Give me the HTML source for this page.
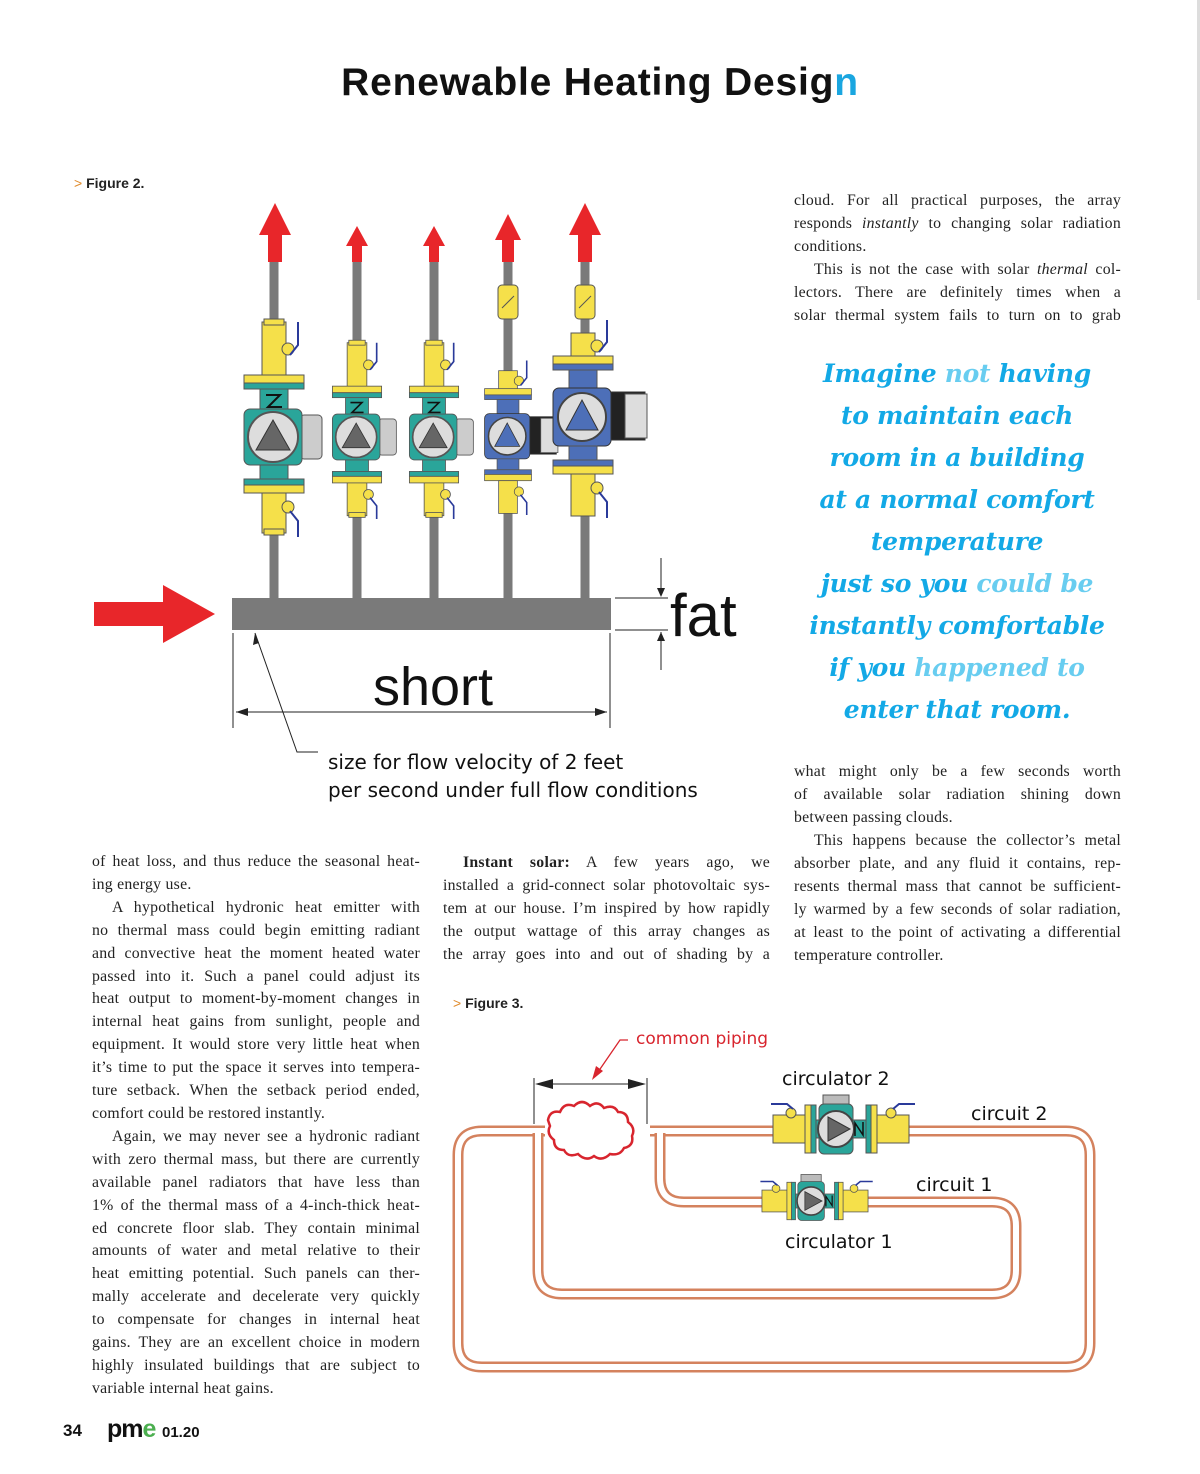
<!DOCTYPE html>
<html><head><meta charset="utf-8"><style>
body{margin:0;width:1200px;height:1474px;background:#fff;position:relative;overflow:hidden;font-family:"Liberation Serif",serif;color:#222}
.col{position:absolute;font-size:15.8px;line-height:23px;letter-spacing:0.25px}
.col div{text-align:justify;text-align-last:justify;white-space:nowrap;overflow:visible}
.col div.l{text-align-last:left}
.in{text-indent:20px}
.q{position:absolute;left:790px;width:334px;text-align:center;font-family:"DejaVu Serif",serif;font-weight:bold;font-style:italic;font-size:25px;line-height:42px;color:#13a9e6;top:353px;letter-spacing:-0.3px}
.q span{color:#68cdf0}
.fig{position:absolute;font-family:"Liberation Sans",sans-serif;font-size:14px;font-weight:bold;color:#222}
.fig b{color:#e08a2a;font-weight:normal}
</style></head><body>
<div style="position:absolute;top:61px;left:0;width:1200px;text-align:center;font-family:'Liberation Sans',sans-serif;font-weight:bold;font-size:39px;color:#111;letter-spacing:0.8px">Renewable Heating Desig<span style="color:#1aa6e0">n</span></div>
<div class="fig" style="left:74px;top:175px"><b>&gt;</b> Figure 2.</div>
<div class="fig" style="left:453px;top:995px"><b>&gt;</b> Figure 3.</div>

<svg style="position:absolute;left:0;top:0" width="1200" height="1474">
<defs>
<g id="pump">
 <rect x="-12" y="-115" width="24" height="55" fill="#f5e04a" stroke="#555" stroke-width="1"/>
 <rect x="-10" y="-118" width="20" height="6" fill="#f5e04a" stroke="#555" stroke-width="1"/>
 <circle cx="14" cy="-88" r="6" fill="#f5e04a" stroke="#555"/>
 <path d="M16,-82 L24,-92 V-115" stroke="#2a3a9a" stroke-width="2" fill="none"/>
 <rect x="-30" y="-62" width="60" height="8" fill="#f5e04a" stroke="#555"/>
 <rect x="-30" y="-54" width="60" height="6" fill="#2aa59a" stroke="#555"/>
 <rect x="-14" y="-48" width="28" height="22" fill="#2aa59a" stroke="#555"/>
 <path d="M-8,-42 H6 L-6,-30 H8" stroke="#111" stroke-width="2" fill="none"/>
 <rect x="26" y="-22" width="22" height="44" rx="4" fill="#ccc" stroke="#555"/>
 <rect x="-30" y="-28" width="58" height="56" rx="6" fill="#2aa59a" stroke="#555"/>
 <circle cx="-1" cy="0" r="25" fill="#ddd" stroke="#555" stroke-width="2"/>
 <path d="M-18,13 L-1,-17 L16,13 Z" fill="#666" stroke="#333"/>
 <rect x="-14" y="28" width="28" height="14" fill="#2aa59a" stroke="#555"/>
 <rect x="-30" y="42" width="60" height="6" fill="#2aa59a" stroke="#555"/>
 <rect x="-30" y="48" width="60" height="8" fill="#f5e04a" stroke="#555"/>
 <rect x="-12" y="56" width="24" height="40" fill="#f5e04a" stroke="#555"/>
 <rect x="-10" y="92" width="20" height="6" fill="#f5e04a" stroke="#555"/>
 <circle cx="14" cy="70" r="6" fill="#f5e04a" stroke="#555"/>
 <path d="M16,74 L24,84 V100" stroke="#2a3a9a" stroke-width="2" fill="none"/>
</g>
<g id="ecm">
 <rect x="-12" y="-85" width="24" height="25" fill="#f5e04a" stroke="#555"/>
 <circle cx="14" cy="-72" r="6" fill="#f5e04a" stroke="#555"/>
 <path d="M16,-66 L24,-76 V-98" stroke="#2a3a9a" stroke-width="2" fill="none"/>
 <rect x="-30" y="-62" width="60" height="8" fill="#f5e04a" stroke="#555"/>
 <rect x="-30" y="-54" width="60" height="6" fill="#4d6fb8" stroke="#555"/>
 <rect x="-14" y="-48" width="28" height="20" fill="#4d6fb8" stroke="#555"/>
 <rect x="24" y="-26" width="38" height="48" fill="#222" stroke="#333"/>
 <rect x="42" y="-24" width="22" height="44" fill="#ddd" stroke="#555"/>
 <rect x="-30" y="-30" width="58" height="58" rx="6" fill="#4d6fb8" stroke="#333"/>
 <circle cx="-1" cy="-1" r="24" fill="#ddd" stroke="#444" stroke-width="2"/>
 <path d="M-17,12 L-1,-18 L15,12 Z" fill="#4d6fb8" stroke="#333"/>
 <rect x="-14" y="28" width="28" height="14" fill="#4d6fb8" stroke="#555"/>
 <rect x="-30" y="42" width="60" height="6" fill="#4d6fb8" stroke="#555"/>
 <rect x="-30" y="48" width="60" height="8" fill="#f5e04a" stroke="#555"/>
 <rect x="-12" y="56" width="24" height="42" fill="#f5e04a" stroke="#555"/>
 <circle cx="14" cy="70" r="6" fill="#f5e04a" stroke="#555"/>
 <path d="M16,74 L24,84 V100" stroke="#2a3a9a" stroke-width="2" fill="none"/>
</g>
<g id="chk"><rect x="-10" y="-17" width="20" height="34" rx="4" fill="#f5e04a" stroke="#555"/><path d="M-6,6 L6,-6" stroke="#555"/></g>
<g id="hp">
 <rect x="-68" y="-14" width="32" height="28" fill="#f5e04a" stroke="#555"/>
 <rect x="36" y="-14" width="32" height="28" fill="#f5e04a" stroke="#555"/>
 <circle cx="-50" cy="-16" r="5" fill="#f5e04a" stroke="#555"/><path d="M-48,-20 L-54,-25 H-70" stroke="#2a3a9a" stroke-width="2" fill="none"/>
 <circle cx="50" cy="-16" r="5" fill="#f5e04a" stroke="#555"/><path d="M52,-20 L58,-25 H74" stroke="#2a3a9a" stroke-width="2" fill="none"/>
 <rect x="-36" y="-24" width="6" height="48" fill="#f5e04a" stroke="#555"/><rect x="-30" y="-24" width="5" height="48" fill="#2aa59a" stroke="#555"/>
 <rect x="30" y="-24" width="6" height="48" fill="#f5e04a" stroke="#555"/><rect x="25" y="-24" width="5" height="48" fill="#2aa59a" stroke="#555"/>
 <rect x="-25" y="-9" width="50" height="18" fill="#2aa59a" stroke="#555"/>
 <rect x="-18" y="-34" width="26" height="10" fill="#bbb" stroke="#555"/>
 <rect x="-22" y="-25" width="34" height="50" rx="5" fill="#2aa59a" stroke="#555"/>
 <circle cx="-5" cy="0" r="18" fill="#ddd" stroke="#444" stroke-width="2"/>
 <path d="M-13,-12 L9,0 L-13,12 Z" fill="#666" stroke="#333"/>
 <path d="M14,7 V-6 L22,6 V-7" stroke="#111" stroke-width="1.5" fill="none"/>
</g>
</defs>
<g stroke="#7a7a7a" stroke-width="9">
<line x1="274" y1="262" x2="274" y2="600"/><line x1="357" y1="262" x2="357" y2="600"/><line x1="434" y1="262" x2="434" y2="600"/><line x1="508" y1="262" x2="508" y2="600"/><line x1="585" y1="262" x2="585" y2="600"/>
</g>
<rect x="232" y="598" width="379" height="32" fill="#7a7a7a"/>
<path d="M94,602 H163 V585 L215,614 L163,643 V626 H94 Z" fill="#e8262a"/>
<g fill="#e8262a">
<path d="M268,262 V235 H259 L275,203 L291,235 H282 V262 Z"/>
<path d="M352,262 V246 H346 L357,226 L368,246 H362 V262 Z"/>
<path d="M429,262 V246 H423 L434,226 L445,246 H439 V262 Z"/>
<path d="M502,262 V240 H495 L508,214 L521,240 H514 V262 Z"/>
<path d="M578,262 V235 H569 L585,203 L601,235 H592 V262 Z"/>
</g>
<use href="#pump" transform="translate(274,437)"/>
<use href="#pump" transform="translate(357,437) scale(0.82)"/>
<use href="#pump" transform="translate(434,437) scale(0.82)"/>
<use href="#chk" transform="translate(508,302)"/>
<use href="#chk" transform="translate(585,302)"/>
<use href="#ecm" transform="translate(508,437) scale(0.78)"/>
<use href="#ecm" transform="translate(583,418)"/>
<g stroke="#222" stroke-width="1" fill="none">
<line x1="615" y1="598" x2="668" y2="598"/><line x1="615" y1="630" x2="668" y2="630"/>
<line x1="661" y1="558" x2="661" y2="596"/><line x1="661" y1="632" x2="661" y2="670"/>
<line x1="233" y1="633" x2="233" y2="728"/><line x1="610" y1="633" x2="610" y2="728"/>
<line x1="236" y1="712" x2="607" y2="712"/>
<path d="M255,633 L297,752 H318"/>
</g>
<g fill="#222"><path d="M657,588 L661,597 L665,588Z"/><path d="M657,641 L661,632 L665,641Z"/><path d="M236,712 L248,708 L248,716Z"/><path d="M607,712 L595,708 L595,716Z"/><path d="M255,633 L253,645 L259,643Z"/></g>
<text x="670" y="636" font-family="Liberation Sans,sans-serif" font-size="60" fill="#111">fat</text>
<text x="433" y="705" text-anchor="middle" font-family="Liberation Sans,sans-serif" font-size="54" fill="#111">short</text>
<text x="328" y="769" font-family="DejaVu Sans,sans-serif" font-size="20" fill="#111">size for flow velocity of 2 feet</text>
<text x="328" y="797" font-family="DejaVu Sans,sans-serif" font-size="20" fill="#111">per second under full flow conditions</text>
<g fill="none" stroke-linejoin="round">
<path d="M545,1131 H482 Q458,1131 458,1155 V1343 Q458,1367 482,1367 H1066 Q1090,1367 1090,1343 V1155 Q1090,1131 1066,1131 H650" stroke="#d4825e" stroke-width="11"/>
<path d="M545,1131 H482 Q458,1131 458,1155 V1343 Q458,1367 482,1367 H1066 Q1090,1367 1090,1343 V1155 Q1090,1131 1066,1131 H650" stroke="#fff" stroke-width="6"/>
<path d="M538,1133 V1270 Q538,1294 562,1294 H992 Q1016,1294 1016,1270 V1226 Q1016,1202 992,1202 H684 Q660,1202 660,1178 V1133" stroke="#d4825e" stroke-width="11"/>
<path d="M538,1133 V1270 Q538,1294 562,1294 H992 Q1016,1294 1016,1270 V1226 Q1016,1202 992,1202 H684 Q660,1202 660,1178 V1133" stroke="#fff" stroke-width="6"/>
</g>
<path d="M548,1120 q2,-10 12,-8 q4,-10 14,-6 q8,-8 16,0 q8,-6 14,2 q10,-4 14,4 q10,0 10,10 q8,6 4,14 q2,10 -8,12 q-4,8 -14,6 q-8,8 -16,2 q-8,6 -16,-2 q-10,4 -14,-4 q-10,0 -10,-10 q-8,-6 -4,-14 z" fill="#fff" stroke="#d8252e" stroke-width="2.5"/>
<use href="#hp" transform="translate(841,1129)"/>
<use href="#hp" transform="translate(815,1201) scale(0.78)"/>
<g stroke="#222" stroke-width="1"><line x1="534" y1="1078" x2="534" y2="1124"/><line x1="647" y1="1078" x2="647" y2="1124"/><line x1="540" y1="1084" x2="641" y2="1084"/></g>
<g fill="#222"><path d="M535,1084 L553,1079 L553,1089Z"/><path d="M646,1084 L628,1079 L628,1089Z"/></g>
<path d="M628,1040 H620 L598,1072" stroke="#d8252e" stroke-width="1.3" fill="none"/><path d="M592,1080 L596,1066 L603,1071Z" fill="#d8252e"/>
<text x="636" y="1044" font-family="DejaVu Sans,sans-serif" font-size="17" fill="#d8252e">common piping</text>
<g font-family="DejaVu Sans,sans-serif" font-size="19" fill="#111">
<text x="782" y="1085">circulator 2</text><text x="971" y="1120">circuit 2</text>
<text x="916" y="1191">circuit 1</text><text x="785" y="1248">circulator 1</text></g>
</svg>

<div class="q">Imagine <span>not</span> having<br>to maintain each<br>room in a building<br>at a normal comfort<br>temperature<br>just so you <span>could be</span><br>instantly comfortable<br>if you <span>happened to</span><br>enter that room.</div>

<div class="col" style="left:794px;top:189px;width:327px">
<div>cloud. For all practical purposes, the array</div>
<div>responds <i>instantly</i> to changing solar radiation</div>
<div class="l">conditions.</div>
<div class="in">This is not the case with solar <i>thermal</i> col-</div>
<div>lectors. There are definitely times when a</div>
<div>solar thermal system fails to turn on to grab</div>
</div>
<div class="col" style="left:794px;top:760px;width:327px">
<div>what might only be a few seconds worth</div>
<div>of available solar radiation shining down</div>
<div class="l">between passing clouds.</div>
<div class="in">This happens because the collector’s metal</div>
<div>absorber plate, and any fluid it contains, rep-</div>
<div>resents thermal mass that cannot be sufficient-</div>
<div>ly warmed by a few seconds of solar radiation,</div>
<div>at least to the point of activating a differential</div>
<div class="l">temperature controller.</div>
</div>
<div class="col" style="left:443px;top:851px;width:327px">
<div class="in"><b>Instant solar:</b> A few years ago, we</div>
<div>installed a grid-connect solar photovoltaic sys-</div>
<div>tem at our house. I’m inspired by how rapidly</div>
<div>the output wattage of this array changes as</div>
<div>the array goes into and out of shading by a</div>
</div>
<div class="col" style="left:92px;top:851px;width:328px;line-height:22.9px">
<div>of heat loss, and thus reduce the seasonal heat-</div>
<div class="l">ing energy use.</div>
<div class="in">A hypothetical hydronic heat emitter with</div>
<div>no thermal mass could begin emitting radiant</div>
<div>and convective heat the moment heated water</div>
<div>passed into it. Such a panel could adjust its</div>
<div>heat output to moment-by-moment changes in</div>
<div>internal heat gains from sunlight, people and</div>
<div>equipment. It would store very little heat when</div>
<div>it’s time to put the space it serves into tempera-</div>
<div>ture setback. When the setback period ended,</div>
<div class="l">comfort could be restored instantly.</div>
<div class="in">Again, we may never see a hydronic radiant</div>
<div>with zero thermal mass, but there are currently</div>
<div>available panel radiators that have less than</div>
<div>1% of the thermal mass of a 4-inch-thick heat-</div>
<div>ed concrete floor slab. They contain minimal</div>
<div>amounts of water and metal relative to their</div>
<div>heat emitting potential. Such panels can ther-</div>
<div>mally accelerate and decelerate very quickly</div>
<div>to compensate for changes in internal heat</div>
<div>gains. They are an excellent choice in modern</div>
<div>highly insulated buildings that are subject to</div>
<div class="l">variable internal heat gains.</div>
</div>
<div style="position:absolute;left:63px;top:1421px;font-family:'Liberation Sans',sans-serif;font-weight:bold;font-size:17px;color:#111">34</div>
<div style="position:absolute;left:107px;top:1415px;font-family:'Liberation Sans',sans-serif;font-weight:bold;font-size:25px;color:#111;letter-spacing:-1px">pm<span style="color:#4caf50">e</span></div>
<div style="position:absolute;left:162px;top:1424px;font-family:'Liberation Sans',sans-serif;font-weight:bold;font-size:15px;color:#111">01.20</div>
<div style="position:absolute;left:1197px;top:0;width:3px;height:300px;background:#ddd"></div>
</body></html>
